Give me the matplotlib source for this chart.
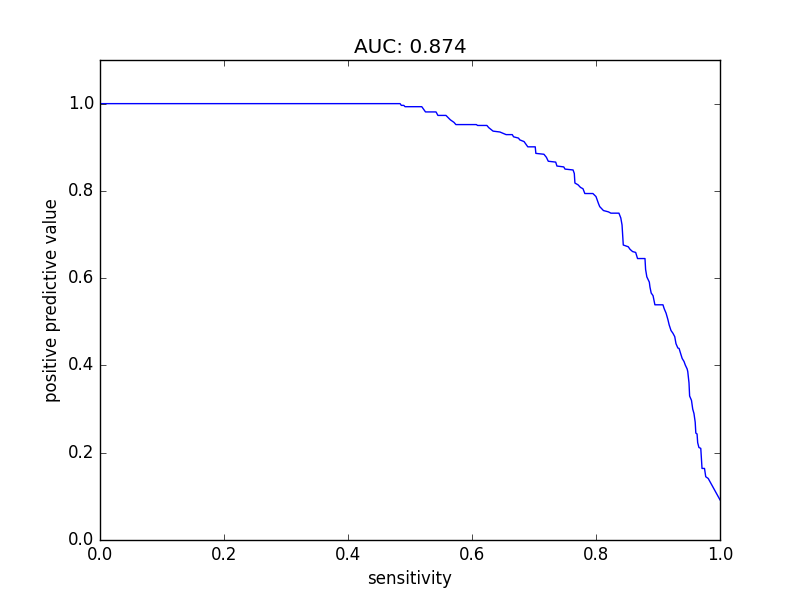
import matplotlib
matplotlib.use("Agg")
import matplotlib.pyplot as plt

plt.style.use("classic")

# precision-recall curve vertices
sensitivity = [
    0.0, 0.484, 0.486, 0.490, 0.492, 0.519, 0.525, 0.542, 0.545, 0.558,
    0.565, 0.571, 0.574, 0.607, 0.609, 0.624, 0.627, 0.634, 0.645, 0.655,
    0.665, 0.667, 0.675, 0.677, 0.684, 0.688, 0.690, 0.702, 0.703, 0.716,
    0.720, 0.723, 0.735, 0.737, 0.748, 0.750, 0.763, 0.765, 0.766, 0.771,
    0.775, 0.779, 0.782, 0.795, 0.800, 0.804, 0.806, 0.812, 0.820, 0.824,
    0.837, 0.840, 0.842, 0.844, 0.852, 0.855, 0.859, 0.864, 0.867, 0.879,
    0.880, 0.882, 0.886, 0.887, 0.889, 0.892, 0.895, 0.908, 0.910, 0.913,
    0.916, 0.918, 0.921, 0.924, 0.927, 0.929, 0.932, 0.934, 0.937, 0.939,
    0.942, 0.944, 0.947, 0.948, 0.950, 0.951, 0.954, 0.956, 0.958, 0.960,
    0.961, 0.963, 0.964, 0.966, 0.969, 0.971, 0.975, 0.977, 0.981, 1.0,
]
ppv = [
    1.0, 1.0, 0.996, 0.996, 0.993, 0.993, 0.981, 0.981, 0.973, 0.973,
    0.963, 0.957, 0.952, 0.952, 0.950, 0.950, 0.945, 0.937, 0.935, 0.929,
    0.929, 0.924, 0.921, 0.917, 0.913, 0.905, 0.901, 0.901, 0.886, 0.884,
    0.877, 0.868, 0.866, 0.857, 0.855, 0.850, 0.848, 0.840, 0.818, 0.814,
    0.808, 0.805, 0.794, 0.794, 0.787, 0.771, 0.764, 0.755, 0.752, 0.749,
    0.749, 0.738, 0.722, 0.676, 0.672, 0.666, 0.661, 0.659, 0.645, 0.645,
    0.620, 0.603, 0.591, 0.580, 0.566, 0.560, 0.539, 0.539, 0.530, 0.520,
    0.505, 0.493, 0.480, 0.474, 0.466, 0.450, 0.440, 0.439, 0.425, 0.416,
    0.409, 0.401, 0.392, 0.386, 0.360, 0.330, 0.320, 0.300, 0.290, 0.270,
    0.245, 0.243, 0.223, 0.212, 0.210, 0.164, 0.164, 0.145, 0.141, 0.092,
]
auc = 0.874

fig = plt.figure(figsize=(8, 6), dpi=100)
ax = fig.add_subplot(111)
ax.plot(sensitivity, ppv, color="b", linewidth=1)
ax.set_xlim(0, 1)
ax.set_ylim(0, 1.1)
ax.set_xticks([0.0, 0.2, 0.4, 0.6, 0.8, 1.0])
ax.set_yticks([0.0, 0.2, 0.4, 0.6, 0.8, 1.0])
ax.set_xlabel("sensitivity")
ax.set_ylabel("positive predictive value")
ax.set_title("AUC: %.3f" % auc)
fig.savefig("out.png", dpi=100)
